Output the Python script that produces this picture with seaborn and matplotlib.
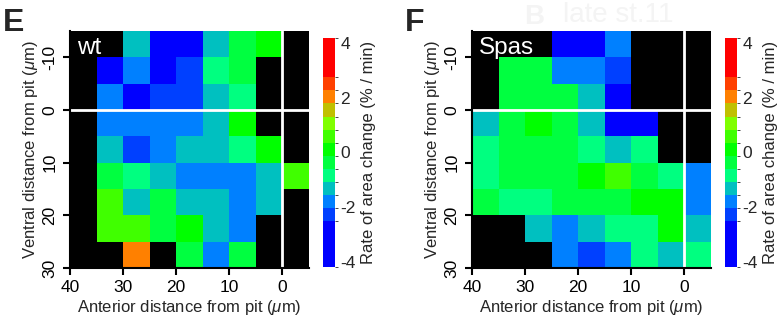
import numpy as np
import pandas as pd
import seaborn as sns
import matplotlib.pyplot as plt
from matplotlib.colors import ListedColormap, BoundaryNorm

nan = np.nan

# 5 um bins, left edge (anterior) and top edge (ventral)
anterior = [40, 35, 30, 25, 20, 15, 10, 5, 0]
ventral = [-15, -10, -5, 0, 5, 10, 15, 20, 25]

# rate of area change (% / min), nan = no data (black)
wt_rate = [
    [nan, nan, -1.3, -3.3, -3.2, -1.3, -0.4, 0.1, nan],
    [nan, -3.1, -1.8, -3.0, -2.4, -0.8, -0.4, nan, nan],
    [nan, -1.8, -3.2, -2.3, -2.3, -1.3, -0.9, nan, nan],
    [nan, -1.8, -1.9, -1.8, -1.9, -1.3, 0.1, nan, nan],
    [nan, -1.3, -2.4, -1.8, -1.3, -1.3, -0.8, 0.1, nan],
    [nan, -0.3, -0.8, -1.3, -1.8, -1.8, -1.9, -1.3, 0.6],
    [nan, 0.6, -1.3, -0.4, -1.3, -1.3, -1.8, -1.3, nan],
    [nan, 0.6, 0.5, -0.4, 0.1, -1.3, -1.8, nan, nan],
    [nan, nan, 2.0, nan, -0.4, -1.8, -0.4, nan, nan],
]

spas_rate = [
    [nan, nan, nan, -3.3, -3.2, -1.8, nan, nan, nan],
    [nan, -0.4, -0.4, -1.8, -1.8, -2.3, nan, nan, nan],
    [nan, -0.4, -0.4, -0.4, -1.3, -3.0, nan, nan, nan],
    [-1.3, -0.4, 0.0, -0.4, -1.3, -3.1, -3.2, nan, nan],
    [-0.8, -0.4, -0.4, -0.4, -0.8, -1.3, -0.8, nan, nan],
    [-0.8, -0.4, -0.4, -0.3, 0.1, 0.5, -0.4, -0.8, -1.8],
    [-0.4, -0.8, -0.8, -0.4, -0.4, -0.3, 0.1, 0.1, -1.8],
    [nan, nan, -1.3, -1.8, -1.3, -0.8, -0.8, 0.0, -1.3],
    [nan, nan, nan, -1.9, -2.4, -1.8, -0.8, -1.3, -0.8],
]

level_bounds = [-4.2, -2.52, -2.04, -1.56, -1.08, -0.6, -0.12,
                0.36, 0.84, 1.32, 1.8, 2.28, 2.76, 4.2]
level_colors = ['#0000ff', '#0040ff', '#0080ff', '#00c0c0', '#00ff80',
                '#00ff40', '#00ff00', '#40ff00', '#80ff00', '#c0c000',
                '#ff8000', '#ff4000', '#ff0000']
cbar_ticks = [-4, -2, 0, 2, 4]
x_ticks = [40, 30, 20, 10, 0]
y_ticks = [-10, 0, 10, 20, 30]

sns.set_style("ticks")
plt.rcParams['font.family'] = ['Liberation Sans', 'DejaVu Sans']
plt.rcParams['mathtext.fontset'] = 'custom'
plt.rcParams['mathtext.rm'] = 'Liberation Sans'
plt.rcParams['mathtext.it'] = 'Liberation Sans:italic'
plt.rcParams['axes.unicode_minus'] = False

cmap = ListedColormap(level_colors)
norm = BoundaryNorm(level_bounds, cmap.N)

fig = plt.figure(figsize=(7.83, 3.27), dpi=100)


def draw_panel(rate, letter, name, x0, cbar_x0):
    W, H = 783, 327
    ax = fig.add_axes([x0 / W, (H - 268) / H, 239 / W, 237 / H])
    cax = fig.add_axes([cbar_x0 / W, (H - 267) / H, 12 / W, 229 / H])
    df = pd.DataFrame(rate, index=ventral, columns=anterior)
    ax.set_facecolor('black')
    sns.heatmap(df, ax=ax, cmap=cmap, norm=norm, cbar_ax=cax,
                cbar_kws={'spacing': 'proportional', 'ticks': cbar_ticks},
                xticklabels=False, yticklabels=False)

    # pit position lines
    ax.axhline((0 - ventral[0]) / 5, color='white', lw=2)
    ax.axvline((anterior[0] - 0) / 5, color='white', lw=2)

    ax.set_xticks([(anterior[0] - v) / 5 for v in x_ticks])
    ax.set_xticklabels([str(v) for v in x_ticks])
    ax.set_yticks([(v - ventral[0]) / 5 for v in y_ticks])
    ax.set_yticklabels([str(v) for v in y_ticks], rotation=90, va='center')
    for s in ['left', 'bottom']:
        ax.spines[s].set_visible(True)
        ax.spines[s].set_linewidth(1.5)
        ax.spines[s].set_color('black')
    ax.tick_params(direction='out', length=5, width=1.5, labelsize=12.5,
                   colors='black', pad=4)
    ax.set_xlabel(r'Anterior distance from pit ($\mu$m)', fontsize=12, labelpad=2)
    ax.set_ylabel(r'Ventral distance from pit ($\mu$m)', fontsize=12, labelpad=2)
    ax.text(0.03, 0.975, name, transform=ax.transAxes, color='white',
            fontsize=17.5, ha='left', va='top')

    cax.tick_params(length=0, labelsize=12.5, pad=4)
    cax.set_ylabel('Rate of area change (% / min)', fontsize=12, labelpad=4)

    fig.text((x0 - 67) / W, 1 - 8 / H, letter, fontsize=23, fontweight='bold',
             ha='left', va='top')
    return ax


draw_panel(wt_rate, 'E', 'wt', 70, 323)
draw_panel(spas_rate, 'F', 'Spas', 472, 725)

# faint ghost text in the original image
fig.text(524 / 783, 1 - 4 / 327, 'B', fontsize=20, fontweight='bold',
         color='#f4f4f4', ha='left', va='top')
fig.text(563 / 783, 1 - 2 / 327, 'late st.11', fontsize=20,
         color='#f4f4f4', ha='left', va='top')

fig.savefig('out.png', dpi=100)
